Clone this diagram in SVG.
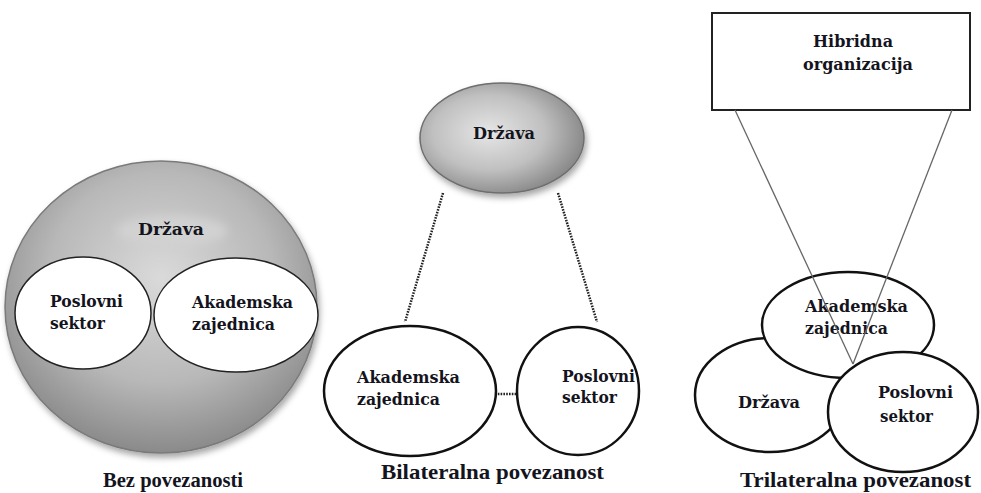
<svg xmlns="http://www.w3.org/2000/svg" width="981" height="493" viewBox="0 0 981 493">
<defs>
<radialGradient id="gBig" cx="50%" cy="40%" r="60%">
<stop offset="0" stop-color="#dadada"/>
<stop offset="0.6" stop-color="#b8b8b8"/>
<stop offset="1" stop-color="#8a8a8a"/>
</radialGradient>
<radialGradient id="gSmall" cx="42%" cy="45%" r="62%">
<stop offset="0" stop-color="#e6e6e6"/>
<stop offset="0.55" stop-color="#c0c0c0"/>
<stop offset="1" stop-color="#828282"/>
</radialGradient>
<filter id="shadow" x="-10%" y="-10%" width="125%" height="130%">
<feDropShadow dx="2" dy="4" stdDeviation="3" flood-color="#000" flood-opacity="0.35"/>
</filter>
<filter id="blur" x="-30%" y="-60%" width="160%" height="220%">
<feGaussianBlur stdDeviation="5"/>
</filter>
<style>
.lbl{font-family:"DejaVu Serif","Liberation Serif",serif;font-weight:bold;font-size:17px;fill:#141420}
.cap{font-family:"Liberation Serif","DejaVu Serif",serif;font-weight:bold;font-size:22px;fill:#141420}
.wo{fill:#fff;stroke:#111;stroke-width:2.5}
.wi{fill:#fff;stroke:#222;stroke-width:1.5}
.dot{stroke:#222;stroke-width:2.5;stroke-dasharray:1.6 1.2;fill:none}
.thin{stroke:#666;stroke-width:1.3;fill:none}
</style>
</defs>

<!-- Left: Bez povezanosti -->
<g id="bez-drzava">
<ellipse cx="161" cy="307" rx="156" ry="146" fill="url(#gBig)" stroke="#7a7a7a" stroke-width="1.5" filter="url(#shadow)"/>
<ellipse cx="172" cy="231" rx="55" ry="15" fill="#d2d2d2" filter="url(#blur)"/>
<text class="lbl" x="138" y="235" textLength="66" lengthAdjust="spacingAndGlyphs">Država</text>
</g>
<g id="bez-poslovni">
<ellipse class="wi" cx="83" cy="313" rx="68" ry="56"/>
<text class="lbl" x="50" y="307" textLength="73" lengthAdjust="spacingAndGlyphs">Poslovni</text>
<text class="lbl" x="50" y="329" textLength="55" lengthAdjust="spacingAndGlyphs">sektor</text>
</g>
<g id="bez-akademska">
<ellipse class="wi" cx="236" cy="315" rx="82" ry="57"/>
<text class="lbl" x="192" y="308" textLength="101" lengthAdjust="spacingAndGlyphs">Akademska</text>
<text class="lbl" x="192" y="330" textLength="83" lengthAdjust="spacingAndGlyphs">zajednica</text>
</g>
<g id="cap-bez">
<text class="cap" x="103" y="487" textLength="140" lengthAdjust="spacingAndGlyphs">Bez povezanosti</text>
</g>

<!-- Middle: Bilateralna povezanost -->
<g id="connectors">
<line class="dot" x1="443" y1="193" x2="405" y2="322"/>
<line class="dot" x1="558" y1="193" x2="597" y2="322"/>
<line class="dot" x1="495" y1="394" x2="517" y2="394"/>
</g>
<g id="bi-drzava">
<ellipse cx="502" cy="138" rx="82" ry="55" fill="url(#gSmall)" stroke="#6e6e6e" stroke-width="1.5" filter="url(#shadow)"/>
<text class="lbl" x="473" y="139" textLength="62" lengthAdjust="spacingAndGlyphs">Država</text>
</g>
<g id="bi-akademska">
<ellipse class="wo" cx="410" cy="391" rx="86" ry="65"/>
<text class="lbl" x="357" y="383" textLength="103" lengthAdjust="spacingAndGlyphs">Akademska</text>
<text class="lbl" x="357" y="405" textLength="83" lengthAdjust="spacingAndGlyphs">zajednica</text>
</g>
<g id="bi-poslovni">
<ellipse class="wo" cx="578" cy="391" rx="61" ry="64"/>
<text class="lbl" x="562" y="382" textLength="73" lengthAdjust="spacingAndGlyphs">Poslovni</text>
<text class="lbl" x="562" y="403" textLength="55" lengthAdjust="spacingAndGlyphs">sektor</text>
</g>
<g id="cap-bi">
<text class="cap" x="381" y="479" textLength="223" lengthAdjust="spacingAndGlyphs">Bilateralna povezanost</text>
</g>

<!-- Right: Trilateralna povezanost -->
<g id="hibridna">
<rect x="712" y="13" width="258" height="97" fill="#fff" stroke="#222" stroke-width="2"/>
<text class="lbl" x="813" y="47" textLength="80" lengthAdjust="spacingAndGlyphs">Hibridna</text>
<text class="lbl" x="803" y="70" textLength="110" lengthAdjust="spacingAndGlyphs">organizacija</text>
</g>
<g id="tri-drzava">
<ellipse class="wo" cx="770" cy="395" rx="75" ry="57"/>
<text class="lbl" x="738" y="408" textLength="62" lengthAdjust="spacingAndGlyphs">Država</text>
</g>
<g id="tri-akademska">
<ellipse class="wo" cx="848" cy="325" rx="86" ry="53"/>
<text class="lbl" x="805" y="312" textLength="103" lengthAdjust="spacingAndGlyphs">Akademska</text>
<text class="lbl" x="805" y="334" textLength="83" lengthAdjust="spacingAndGlyphs">zajednica</text>
</g>
<g id="tri-lines">
<line class="thin" x1="735" y1="110" x2="853" y2="364"/>
<line class="thin" x1="952" y1="110" x2="853" y2="364"/>
</g>
<g id="tri-poslovni">
<ellipse class="wo" cx="903" cy="412" rx="75" ry="60"/>
<text class="lbl" x="878" y="398" textLength="75" lengthAdjust="spacingAndGlyphs">Poslovni</text>
<text class="lbl" x="880" y="422" textLength="53" lengthAdjust="spacingAndGlyphs">sektor</text>
</g>
<g id="cap-tri">
<text class="cap" x="740" y="487" textLength="231" lengthAdjust="spacingAndGlyphs">Trilateralna povezanost</text>
</g>
</svg>
